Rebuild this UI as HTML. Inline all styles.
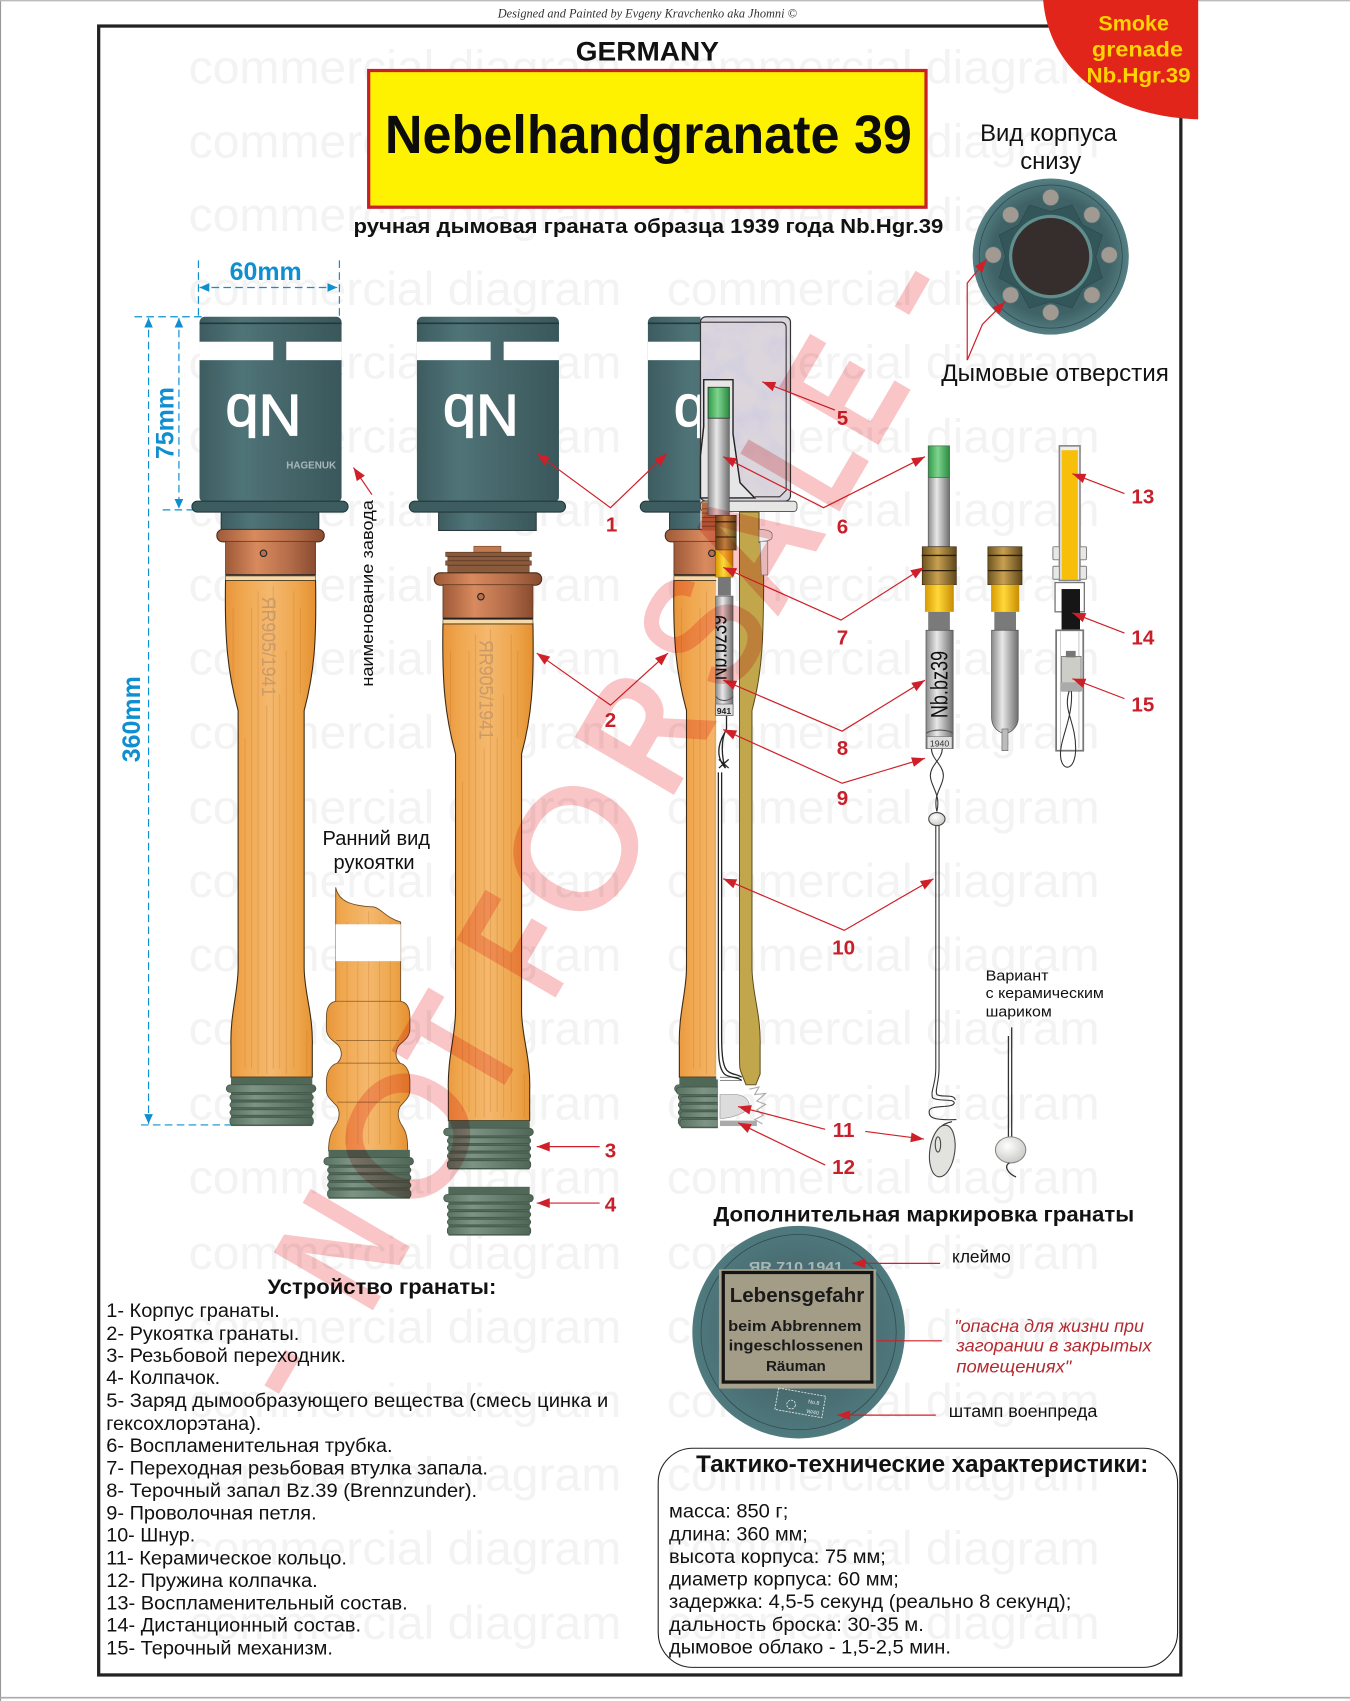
<!DOCTYPE html>
<html><head><meta charset="utf-8"><title>Nebelhandgranate 39</title>
<style>html,body{margin:0;padding:0;background:#fff}svg{display:block}text{font-family:"Liberation Sans",sans-serif}</style></head>
<body>
<svg xmlns="http://www.w3.org/2000/svg" width="1350" height="1701" viewBox="0 0 1245 1568" preserveAspectRatio="none">
<defs>
<linearGradient id="teal" x1="0" x2="1" y1="0" y2="0"><stop offset="0" stop-color="#3d5c60"/><stop offset=".3" stop-color="#4f7478"/><stop offset=".6" stop-color="#46666a"/><stop offset="1" stop-color="#3a585c"/></linearGradient>
<linearGradient id="wood" x1="0" x2="1" y1="0" y2="0"><stop offset="0" stop-color="#e8953a"/><stop offset=".2" stop-color="#f0a850"/><stop offset=".5" stop-color="#f4b86e"/><stop offset=".8" stop-color="#eea64c"/><stop offset="1" stop-color="#e59030"/></linearGradient>
<linearGradient id="copper" x1="0" x2="1" y1="0" y2="0"><stop offset="0" stop-color="#9e5a38"/><stop offset=".35" stop-color="#d98a5e"/><stop offset=".7" stop-color="#b56e4a"/><stop offset="1" stop-color="#8a4c30"/></linearGradient>
<linearGradient id="steel" x1="0" x2="1" y1="0" y2="0"><stop offset="0" stop-color="#8a8a8a"/><stop offset=".4" stop-color="#e8e8e8"/><stop offset="1" stop-color="#6e6e6e"/></linearGradient>
<linearGradient id="green" x1="0" x2="1" y1="0" y2="0"><stop offset="0" stop-color="#2f9a48"/><stop offset=".45" stop-color="#7fd48e"/><stop offset="1" stop-color="#2a8a40"/></linearGradient>
<linearGradient id="brass" x1="0" x2="1" y1="0" y2="0"><stop offset="0" stop-color="#6e5420"/><stop offset=".45" stop-color="#c8a050"/><stop offset="1" stop-color="#5e461a"/></linearGradient>
<linearGradient id="yel" x1="0" x2="1" y1="0" y2="0"><stop offset="0" stop-color="#d89a00"/><stop offset=".45" stop-color="#ffd83a"/><stop offset="1" stop-color="#c88c00"/></linearGradient>
<linearGradient id="thr" x1="0" x2="1" y1="0" y2="0"><stop offset="0" stop-color="#5a7262"/><stop offset=".3" stop-color="#7d9484"/><stop offset="1" stop-color="#4f6656"/></linearGradient>
<radialGradient id="disc" cx=".5" cy=".5" r=".5"><stop offset="0" stop-color="#3a585c"/><stop offset=".7" stop-color="#4a6f74"/><stop offset="1" stop-color="#4f7a7e"/></radialGradient>
<radialGradient id="base" cx=".5" cy=".5" r=".5"><stop offset="0" stop-color="#3a5c60"/><stop offset=".75" stop-color="#3f6266"/><stop offset="1" stop-color="#558084"/></radialGradient>
<radialGradient id="ball" cx=".4" cy=".35" r=".7"><stop offset="0" stop-color="#fff"/><stop offset="1" stop-color="#c8c8c4"/></radialGradient>
<filter id="grain" x="0" y="0" width="100%" height="100%"><feTurbulence type="fractalNoise" baseFrequency=".045" numOctaves="4" seed="7"/><feColorMatrix values="0 0 0 0 .55  0 0 0 0 .55  0 0 0 0 .78  1.6 0 0 0 -.62"/></filter>
<marker id="b" markerUnits="userSpaceOnUse" markerWidth="14" markerHeight="10" refX="13" refY="5" orient="auto-start-reverse"><path d="M1,0.5 L13,5 L1,9.5 Z" fill="#cf1f28"/></marker>
<marker id="c" markerUnits="userSpaceOnUse" markerWidth="10" markerHeight="10" refX="9" refY="5" orient="auto-start-reverse"><path d="M0,1 L9,5 L0,9 Z" fill="#0f8fd0"/></marker>
<clipPath id="hl"><rect x="0" y="0" width="232.5" height="1200"/></clipPath>
<clipPath id="hl2"><rect x="0" y="0" width="247" height="1200"/></clipPath>
<clipPath id="fz"><rect x="660" y="540" width="16" height="120"/></clipPath>

<g id="head">
 <rect x="204" y="470" width="90" height="19" fill="url(#teal)" stroke="#2a3a3c"/>
 <rect x="184" y="292" width="131" height="171" rx="5" fill="url(#teal)"/>
 <path d="M184,298 H315" stroke="#22383a" stroke-width="1.5"/>
 <rect x="184" y="315" width="68" height="17" fill="#fff"/><rect x="264" y="315" width="51" height="17" fill="#fff"/>
 <text transform="translate(243,364) rotate(180)" text-anchor="middle" font-size="54" fill="#fff" stroke="#fff" stroke-width="1.2" textLength="70" lengthAdjust="spacingAndGlyphs">Nb</text>
 <rect x="177" y="462" width="144" height="10" rx="5" fill="#3d5c60" stroke="#22383a"/>
</g>
<g id="thread">
 <rect x="213" y="993" width="75" height="45" fill="#4f6858"/>
 <rect x="208.6" y="1000" width="82.8" height="7" rx="3.5" fill="url(#thr)" stroke="#3f5244" stroke-width=".6"/>
 <rect x="212" y="1009" width="77" height="5" rx="2.5" fill="url(#thr)" stroke="#3f5244" stroke-width=".6"/>
 <rect x="212" y="1016" width="77" height="5" rx="2.5" fill="url(#thr)" stroke="#3f5244" stroke-width=".6"/>
 <rect x="212" y="1023" width="77" height="5" rx="2.5" fill="url(#thr)" stroke="#3f5244" stroke-width=".6"/>
 <rect x="212" y="1030" width="77" height="7" rx="2.5" fill="url(#thr)" stroke="#3f5244" stroke-width=".6"/>
</g>
<g id="handle">
 <rect x="200" y="488" width="99" height="11.5" rx="5.5" fill="url(#copper)" stroke="#4a2a18"/>
 <rect x="208" y="499" width="83" height="31" fill="url(#copper)" stroke="#5a3420" stroke-width=".7"/>
 <circle cx="243" cy="510" r="3" fill="#b57050" stroke="#222"/>
 <path d="M208,530 H291" stroke="#222" stroke-width="1.4"/>
 <path d="M208,535 H291 C292,590 290,620 280.5,655 V892 C280.5,915 289,935 288,965 V993 H213 V965 C212,935 219.6,915 219.6,892 V655 C210,620 207,590 208,535 Z" fill="url(#wood)" stroke="#3a2a14" stroke-width="1"/>
 <path d="M208,531 H291 V535 H208 Z" fill="#f5d9a8" stroke="#3a2a14" stroke-width=".5"/>
 <g stroke="#c06a18" stroke-width=".8" opacity=".3" fill="none">
  <path d="M226,680 V985"/><path d="M232,560 V985"/><path d="M238,545 V990"/><path d="M246,650 V990"/><path d="M252,540 V985"/><path d="M258,640 V985"/><path d="M264,600 V990"/><path d="M271,545 V985"/><path d="M277,560 V640"/><path d="M215,560 V630"/><path d="M283,950 V990"/>
 </g>
 <use href="#thread"/>
</g>
</defs>

<rect width="1245" height="1568" fill="#fff"/>
<path d="M0.5,0 V1568" stroke="#999" stroke-width="1"/><path d="M0,0.5 H1245" stroke="#bbb" stroke-width="1.5"/><path d="M0,1565 H1245" stroke="#aaa" stroke-width="1.5"/>

<!-- watermark -->
<g font-size="44" fill="#f3f3f3">
<text x="174" y="77" textLength="399" lengthAdjust="spacingAndGlyphs">commercial diagram</text><text x="615" y="77" textLength="399" lengthAdjust="spacingAndGlyphs">commercial diagram</text>
<text x="174" y="145" textLength="399" lengthAdjust="spacingAndGlyphs">commercial diagram</text><text x="615" y="145" textLength="399" lengthAdjust="spacingAndGlyphs">commercial diagram</text>
<text x="174" y="213" textLength="399" lengthAdjust="spacingAndGlyphs">commercial diagram</text><text x="615" y="213" textLength="399" lengthAdjust="spacingAndGlyphs">commercial diagram</text>
<text x="174" y="281" textLength="399" lengthAdjust="spacingAndGlyphs">commercial diagram</text><text x="615" y="281" textLength="399" lengthAdjust="spacingAndGlyphs">commercial diagram</text>
<text x="174" y="349" textLength="399" lengthAdjust="spacingAndGlyphs">commercial diagram</text><text x="615" y="349" textLength="399" lengthAdjust="spacingAndGlyphs">commercial diagram</text>
<text x="174" y="417" textLength="399" lengthAdjust="spacingAndGlyphs">commercial diagram</text><text x="615" y="417" textLength="399" lengthAdjust="spacingAndGlyphs">commercial diagram</text>
<text x="174" y="485" textLength="399" lengthAdjust="spacingAndGlyphs">commercial diagram</text><text x="615" y="485" textLength="399" lengthAdjust="spacingAndGlyphs">commercial diagram</text>
<text x="174" y="554" textLength="399" lengthAdjust="spacingAndGlyphs">commercial diagram</text><text x="615" y="554" textLength="399" lengthAdjust="spacingAndGlyphs">commercial diagram</text>
<text x="174" y="622" textLength="399" lengthAdjust="spacingAndGlyphs">commercial diagram</text><text x="615" y="622" textLength="399" lengthAdjust="spacingAndGlyphs">commercial diagram</text>
<text x="174" y="690" textLength="399" lengthAdjust="spacingAndGlyphs">commercial diagram</text><text x="615" y="690" textLength="399" lengthAdjust="spacingAndGlyphs">commercial diagram</text>
<text x="174" y="759" textLength="399" lengthAdjust="spacingAndGlyphs">commercial diagram</text><text x="615" y="759" textLength="399" lengthAdjust="spacingAndGlyphs">commercial diagram</text>
<text x="174" y="827" textLength="399" lengthAdjust="spacingAndGlyphs">commercial diagram</text><text x="615" y="827" textLength="399" lengthAdjust="spacingAndGlyphs">commercial diagram</text>
<text x="174" y="895" textLength="399" lengthAdjust="spacingAndGlyphs">commercial diagram</text><text x="615" y="895" textLength="399" lengthAdjust="spacingAndGlyphs">commercial diagram</text>
<text x="174" y="963" textLength="399" lengthAdjust="spacingAndGlyphs">commercial diagram</text><text x="615" y="963" textLength="399" lengthAdjust="spacingAndGlyphs">commercial diagram</text>
<text x="174" y="1032" textLength="399" lengthAdjust="spacingAndGlyphs">commercial diagram</text><text x="615" y="1032" textLength="399" lengthAdjust="spacingAndGlyphs">commercial diagram</text>
<text x="174" y="1100" textLength="399" lengthAdjust="spacingAndGlyphs">commercial diagram</text><text x="615" y="1100" textLength="399" lengthAdjust="spacingAndGlyphs">commercial diagram</text>
<text x="174" y="1170" textLength="399" lengthAdjust="spacingAndGlyphs">commercial diagram</text><text x="615" y="1170" textLength="399" lengthAdjust="spacingAndGlyphs">commercial diagram</text>
<text x="174" y="1238" textLength="399" lengthAdjust="spacingAndGlyphs">commercial diagram</text><text x="615" y="1238" textLength="399" lengthAdjust="spacingAndGlyphs">commercial diagram</text>
<text x="174" y="1306" textLength="399" lengthAdjust="spacingAndGlyphs">commercial diagram</text><text x="615" y="1306" textLength="399" lengthAdjust="spacingAndGlyphs">commercial diagram</text>
<text x="174" y="1374" textLength="399" lengthAdjust="spacingAndGlyphs">commercial diagram</text><text x="615" y="1374" textLength="399" lengthAdjust="spacingAndGlyphs">commercial diagram</text>
<text x="174" y="1442" textLength="399" lengthAdjust="spacingAndGlyphs">commercial diagram</text><text x="615" y="1442" textLength="399" lengthAdjust="spacingAndGlyphs">commercial diagram</text>
<text x="174" y="1511" textLength="399" lengthAdjust="spacingAndGlyphs">commercial diagram</text><text x="615" y="1511" textLength="399" lengthAdjust="spacingAndGlyphs">commercial diagram</text>
</g>

<!-- frame + corner -->
<rect x="91" y="24" width="998" height="1520" fill="none" stroke="#222" stroke-width="3"/>
<text x="597" y="16" text-anchor="middle" style="font-family:'Liberation Serif',serif" font-style="italic" font-size="12" fill="#333" textLength="276" lengthAdjust="spacingAndGlyphs">Designed and Painted by Evgeny Kravchenko aka Jhomni ©</text>
<path d="M962,0 H1105 V110 C1030,108 968,70 962,0 Z" fill="#e1251b"/>
<g font-size="20" font-weight="700" fill="#ffd400">
<text x="1013" y="28" textLength="65" lengthAdjust="spacingAndGlyphs">Smoke</text><text x="1007" y="52" textLength="84" lengthAdjust="spacingAndGlyphs">grenade</text><text x="1002" y="76" textLength="96" lengthAdjust="spacingAndGlyphs">Nb.Hgr.39</text>
</g>

<text x="597" y="56" text-anchor="middle" font-size="25" font-weight="700" fill="#111" textLength="132" lengthAdjust="spacingAndGlyphs">GERMANY</text>
<rect x="340" y="65" width="514" height="126" fill="#fff200" stroke="#c8202a" stroke-width="3"/>
<text x="355" y="141" font-size="50" font-weight="700" fill="#0c0c0c" textLength="486" lengthAdjust="spacingAndGlyphs">Nebelhandgranate 39</text>
<text x="326" y="215" font-size="19" font-weight="700" fill="#111" textLength="544" lengthAdjust="spacingAndGlyphs">ручная дымовая граната образца 1939 года Nb.Hgr.39</text>

<!-- bottom view -->
<text x="967" y="130" text-anchor="middle" font-size="22" fill="#111">Вид корпуса</text>
<text x="969" y="156" text-anchor="middle" font-size="22" fill="#111">снизу</text>
<circle cx="969" cy="236.5" r="72" fill="url(#base)"/>
<circle cx="969" cy="236.5" r="66" fill="none" stroke="#2f4a4e" stroke-width=".7"/>
<path d="M1010.5,236.5 L1016.6,256.2 L998.3,265.8 L988.7,284.1 L969,278 L949.3,284.1 L939.7,265.8 L921.4,256.2 L927.5,236.5 L921.4,216.8 L939.7,207.2 L949.3,188.9 L969,195 L988.7,188.9 L998.3,207.2 L1016.6,216.8 Z" fill="#33565a" stroke="#2a4448" stroke-width=".5"/>
<circle cx="969" cy="236.5" r="38.5" fill="#5f8e8c"/>
<circle cx="969" cy="236.5" r="35.5" fill="#362e2c"/>
<g fill="#a09a92" stroke="#5a7476" stroke-width=".6">
<circle cx="969" cy="182" r="7.5"/><circle cx="1007" cy="198" r="7.5"/><circle cx="1023" cy="235" r="7.5"/><circle cx="1007" cy="272" r="7.5"/><circle cx="969" cy="288" r="7.5"/><circle cx="932" cy="272" r="7.5"/><circle cx="916" cy="235" r="7.5"/><circle cx="932" cy="198" r="7.5"/>
</g>
<g fill="none" stroke="#cf1f28" stroke-width="1.1">
<path d="M892,332 V261 L910,239" marker-end="url(#b)"/>
<path d="M892,332 L906,299 L927,278" marker-end="url(#b)"/>
</g>
<text x="868" y="351" font-size="22" fill="#111" textLength="210" lengthAdjust="spacingAndGlyphs">Дымовые отверстия</text>

<!-- dimensions -->
<g stroke="#0f8fd0" stroke-width="1.1" fill="none" stroke-dasharray="7 4">
<path d="M183,240 V292"/><path d="M313,240 V292"/>
<path d="M184,265 H311" marker-start="url(#c)" marker-end="url(#c)"/>
<path d="M124,292 H186"/><path d="M150,470 H186"/><path d="M130,1037 H218"/>
<path d="M137,293 V1036" marker-start="url(#c)" marker-end="url(#c)"/>
<path d="M165,293 V469" marker-start="url(#c)" marker-end="url(#c)"/>
</g>
<g fill="#0f8fd0" font-weight="700">
<text x="245" y="258" text-anchor="middle" font-size="23">60mm</text>
<text transform="translate(160,390) rotate(-90)" text-anchor="middle" font-size="23">75mm</text>
<text transform="translate(129,663) rotate(-90)" text-anchor="middle" font-size="23">360mm</text>
</g>
<text transform="translate(344,547) rotate(-90)" text-anchor="middle" font-size="15.5" fill="#111" textLength="172" lengthAdjust="spacingAndGlyphs">наименование завода</text>
<path d="M343,456 L326,431" stroke="#cf1f28" stroke-width="1.1" marker-end="url(#b)"/>

<!-- grenade 1 -->
<use href="#head"/>
<text x="264" y="432" font-size="9.5" font-weight="700" fill="#a8b8b8" textLength="46" lengthAdjust="spacingAndGlyphs">HAGENUK</text>
<use href="#handle"/>
<text transform="translate(241.5,550) rotate(90)" font-size="18" fill="#c99a68" textLength="92" lengthAdjust="spacingAndGlyphs">ЯR905/1941</text>

<!-- grenade 2 -->
<use href="#head" transform="translate(200.5,0)"/>
<rect x="437" y="503.5" width="25" height="6" fill="#c07a50" stroke="#6a3a20" stroke-width=".5"/>
<g fill="#8a5a3c" stroke="#4a2a18" stroke-width=".5">
<rect x="411" y="509" width="79" height="4"/><rect x="413" y="513" width="75" height="4"/><rect x="411" y="517" width="79" height="4"/><rect x="413" y="521" width="75" height="7"/>
</g>
<use href="#handle" transform="translate(200.5,40)"/>
<text transform="translate(442,590) rotate(90)" font-size="18" fill="#c99a68" textLength="92" lengthAdjust="spacingAndGlyphs">ЯR905/1941</text>
<use href="#thread" transform="translate(200.5,101)"/>

<!-- early handle -->
<text x="347" y="779" text-anchor="middle" font-size="18.5" fill="#111">Ранний вид</text>
<text x="345" y="801" text-anchor="middle" font-size="18.5" fill="#111">рукоятки</text>
<path d="M309.6,818 C312,830 322,835 345,836 C352,838 356,846 369.5,850 V923 C376,924 378,930 378,938 V948 C378,958 370,960 367,965 C364,971 365,976 369,980 C376,982 378,990 378,997 V1005 C378,1012 372,1016 369,1020 C366,1026 367,1032 371,1038 C375,1044 376,1050 376,1061 H303 C303,1050 305,1044 309,1038 C313,1032 314,1026 311,1020 C308,1016 301,1012 301,1005 V997 C301,990 304,982 311,980 C315,976 316,971 313,965 C310,960 301,958 301,948 V938 C301,930 303,924 309.6,923 Z" fill="url(#wood)" stroke="#6a4a24" stroke-width=".8"/>
<g stroke="#c06a18" stroke-width=".8" opacity=".3"><path d="M320,850 V1055"/><path d="M330,850 V1055"/><path d="M340,840 V1055"/><path d="M350,850 V1055"/><path d="M360,850 V1055"/></g>
<path d="M309.6,923 H369.5 M310,959 H368 M311,980 H369 M311,1016 H369" stroke="#8a5a24" stroke-width=".7" fill="none"/>
<rect x="309.6" y="852" width="60" height="34" fill="#fff"/>
<use href="#thread" transform="translate(90,67)"/>

<!-- grenade 3 cutaway -->
<g transform="translate(413.5,0)"><use href="#head" clip-path="url(#hl)"/></g>
<rect x="646" y="292" width="83" height="170" rx="5" fill="#dcd6dc"/>
<rect x="646" y="292" width="83" height="170" rx="5" fill="#fff" filter="url(#grain)" opacity=".6"/>
<rect x="646" y="292" width="83" height="170" rx="5" fill="none" stroke="#333" stroke-width="1.1"/>
<path d="M646,297 H720 Q725,297 725,302 V452 L719,458 H696" fill="none" stroke="#333" stroke-width="1"/>
<path d="M649,350 H676 V400 L682.5,445 L696,459 H646 V420 L649,393 Z" fill="#e6e6e6" stroke="#222" stroke-width="1.3"/>
<rect x="646" y="462" width="89" height="9.5" rx="3" fill="#e6e6e4" stroke="#444" stroke-width=".8"/>
<g transform="translate(413.5,0)"><use href="#handle" clip-path="url(#hl2)"/></g>
<rect x="647" y="463" width="14" height="26" fill="#b5683f"/>
<path d="M647,469 H661 M647,473 H661 M647,477 H661 M647,481 H661 M647,485 H661" stroke="#7a3f22" stroke-width=".8"/>
<!-- right half of handle (olive) -->
<path d="M682,472 H700 V500 H704 C705,590 703,620 693.5,655 V892 C693.5,915 702,935 701,965 V990 L697,1000 H688 L684,990 C682,985 682,985 682,970 Z" fill="#c2a64c" stroke="#5a4a1a" stroke-width=".9"/>
<path d="M700,488 C708,488 713,490 712,494 C713,498 708,499 700,499 Z M701,499 H708 V530 H702 Z" fill="#eee" stroke="#888" stroke-width=".7"/>
<path d="M664,993 H682 M664,996 H684" stroke="#666" stroke-width=".7"/>
<!-- fuze in grenade -->
<rect x="653" y="385" width="19.6" height="90" fill="url(#steel)" stroke="#555" stroke-width=".6"/>
<rect x="653" y="357" width="19.6" height="28.5" fill="url(#green)" stroke="#333" stroke-width=".8"/>
<rect x="660" y="475" width="19" height="32" fill="url(#brass)" stroke="#3a2a10" stroke-width=".5"/>
<path d="M660,481 H679 M660,495 H679" stroke="#2a1e08" stroke-width="1"/>
<rect x="660" y="507" width="16" height="25" fill="url(#yel)" stroke="#555" stroke-width=".4"/>
<rect x="662" y="532" width="12" height="17" fill="#777"/>
<rect x="660" y="549.5" width="16" height="110" fill="url(#steel)" stroke="#555" stroke-width=".6"/>
<g clip-path="url(#fz)"><text transform="translate(670,627) rotate(-90)" font-size="22" fill="#111" textLength="60" lengthAdjust="spacingAndGlyphs">Nb.bz39</text></g>
<path d="M660,642 C664,647 672,647 676,642" fill="none" stroke="#555"/>
<rect x="660" y="649" width="16" height="10.5" fill="#ddd" stroke="#555" stroke-width=".5"/>
<text x="661" y="658" font-size="8" font-weight="700" fill="#222">941</text>
<!-- wire -->
<g fill="none" stroke="#222" stroke-width="1.2">
<path d="M670,660 V672 C664,682 666,700 669,708 C662,700 660,690 668,676"/><path d="M663,700 L672,708 M663,708 L672,700"/>
<path d="M662.5,712 V955 C662.5,975 663,985 668,990 C672,994 680,992 684,996"/>
<path d="M665.5,712 V955 C665.5,975 667,985 672,988 C676,991 680,990 684,993"/>
</g>
<!-- cap in cutaway -->
<g transform="translate(415,2)"><use href="#thread" clip-path="url(#hl2)"/></g>
<path d="M664,1009 H680 C690,1011 694,1018 688,1024 C682,1028 672,1031 664,1031 Z" fill="#dcdcdc" stroke="#999" stroke-width=".6"/>
<path d="M691,1004 L700,1002 L696,1009 L706,1008 L698,1015 L706,1018 L698,1023 L704,1028 L696,1032 L703,1036" fill="none" stroke="#aaa" stroke-width="1"/>
<rect x="664" y="1033" width="34" height="5" fill="#aaa"/>

<!-- exploded fuze A -->
<rect x="856" y="440" width="19.7" height="64" fill="url(#steel)" stroke="#555" stroke-width=".6"/>
<rect x="856" y="411" width="19.7" height="29" fill="url(#green)" stroke="#555" stroke-width=".6"/>
<rect x="850.5" y="504" width="31.5" height="35" fill="url(#brass)" stroke="#3a2a10" stroke-width=".6"/>
<path d="M850,512 H882 M850,526 H882" stroke="#2a1e08" stroke-width="1.2"/>
<rect x="853" y="539" width="26.6" height="25" fill="url(#yel)"/>
<rect x="856" y="564" width="20" height="17" fill="#7a7a7a"/>
<rect x="854" y="581" width="25" height="109" fill="url(#steel)" stroke="#555" stroke-width=".7"/>
<text transform="translate(874,662) rotate(-90)" font-size="22" fill="#111" textLength="62" lengthAdjust="spacingAndGlyphs">Nb.bz39</text>
<path d="M854,676 C860,672 873,672 879,676" fill="none" stroke="#555"/>
<rect x="855" y="679" width="23" height="11" fill="#ddd" stroke="#666" stroke-width=".5"/>
<text x="866.5" y="688" text-anchor="middle" font-size="8" fill="#333">1940</text>
<g fill="none" stroke="#333" stroke-width="1">
<path d="M859,690 C859,700 870,705 870,715 C870,725 860,732 864,748"/>
<path d="M869,690 C869,700 858,705 858,715 C858,725 868,732 864,748"/>
<path d="M863,760 V985 C863,1000 858,1005 860,1012 C866,1016 880,1012 880,1017 C878,1022 858,1018 857,1024 C856,1030 860,1033 882,1032"/>
<path d="M866,760 V985 C866,998 862,1005 864,1009 C870,1012 880,1008 881,1014"/>
<path d="M878,1034 C868,1036 864,1040 866,1050"/>
</g>
<ellipse cx="864" cy="755" rx="7.5" ry="6" fill="url(#ball)" stroke="#444"/>
<ellipse cx="869" cy="1061" rx="11.5" ry="24" transform="rotate(8 869 1061)" fill="#e2e2de" stroke="#444"/>
<ellipse cx="865" cy="1055" rx="2.5" ry="7" fill="none" stroke="#444"/>

<!-- exploded fuze B -->
<rect x="911" y="504" width="31.5" height="35" fill="url(#brass)" stroke="#3a2a10" stroke-width=".6"/>
<path d="M911,512 H943 M911,526 H943" stroke="#2a1e08" stroke-width="1.2"/>
<rect x="914" y="539" width="26" height="25" fill="url(#yel)"/>
<rect x="917" y="564" width="20" height="17" fill="#7a7a7a"/>
<path d="M914.5,581 H939 V662 C939,670 932,676 927,676 C921,676 914.5,670 914.5,662 Z" fill="url(#steel)" stroke="#555" stroke-width=".7"/>
<rect x="924" y="672" width="5.6" height="20" fill="#bbb" stroke="#555" stroke-width=".5"/>

<!-- exploded fuze C -->
<rect x="977" y="411" width="19" height="124" fill="#eee" stroke="#888" stroke-width="1.5"/>
<rect x="979" y="415" width="15" height="119" fill="#f7bf0a"/>
<g fill="#e8e8e4" stroke="#888" stroke-width="1"><rect x="971" y="504" width="6" height="12" rx="1"/><rect x="996" y="504" width="6" height="12" rx="1"/><rect x="971" y="522" width="6" height="12" rx="1"/><rect x="996" y="522" width="6" height="12" rx="1"/></g>
<rect x="973" y="537" width="27" height="27" fill="#fff" stroke="#777" stroke-width="1.2"/>
<rect x="979" y="543" width="17" height="38" fill="#161616"/>
<rect x="974" y="581" width="25" height="111" fill="#fff" stroke="#777" stroke-width="1.6"/>
<path d="M978,582 V690 M995,582 V690" stroke="#ccc"/>
<rect x="979" y="605" width="18" height="32" fill="#cdcdc8" stroke="#555" stroke-width=".6"/>
<rect x="983" y="600" width="9" height="6" fill="#777"/>
<rect x="978" y="629" width="20" height="8" fill="#aaa"/>
<g fill="none" stroke="#333" stroke-width="1"><path d="M986,637 C980,655 992,665 992,690 C992,712 978,712 978,695 C978,680 990,660 988,637"/></g>

<!-- variant -->
<g font-size="14" fill="#111"><text x="909" y="904" textLength="58" lengthAdjust="spacingAndGlyphs">Вариант</text><text x="909" y="920" textLength="109" lengthAdjust="spacingAndGlyphs">с керамическим</text><text x="909" y="937" textLength="61" lengthAdjust="spacingAndGlyphs">шариком</text></g>
<path d="M930,955 V1050 M933,947 V1050" stroke="#333" stroke-width="1.2"/>
<ellipse cx="932" cy="1060" rx="14" ry="12" fill="url(#ball)" stroke="#888"/>
<path d="M931,1072 C925,1075 930,1082 937,1085" fill="none" stroke="#333" stroke-width="1.2"/>

<!-- callouts -->
<g fill="none" stroke="#cf1f28" stroke-width="1.1">
<path d="M495,418 L563,468 L615,418" marker-start="url(#b)" marker-end="url(#b)"/>
<path d="M495,602 L563,650 L616,602" marker-start="url(#b)" marker-end="url(#b)"/>
<path d="M553,1057 H495" marker-end="url(#b)"/><path d="M553,1109 H495" marker-end="url(#b)"/>
<path d="M770,378 L703,352" marker-end="url(#b)"/>
<path d="M667,421 L759.5,468 L853,421" marker-start="url(#b)" marker-end="url(#b)"/>
<path d="M667,523 L775.6,571.6 L852,523" marker-start="url(#b)" marker-end="url(#b)"/>
<path d="M667,627 L776.6,674 L853,627" marker-start="url(#b)" marker-end="url(#b)"/>
<path d="M667,672.5 L776.6,722 L853,699" marker-start="url(#b)" marker-end="url(#b)"/>
<path d="M667,810 L778.6,857.6 L861,810" marker-start="url(#b)" marker-end="url(#b)"/>
<path d="M761,1041 L680.6,1020" marker-end="url(#b)"/>
<path d="M798,1043 L852,1050" marker-end="url(#b)"/>
<path d="M761,1074 L680.6,1035" marker-end="url(#b)"/>
<path d="M1037,455 L989,436.7" marker-end="url(#b)"/>
<path d="M1037,583.6 L989,565" marker-end="url(#b)"/>
<path d="M1037,644 L989,625.6" marker-end="url(#b)"/>
</g>
<g font-size="19" font-weight="700" fill="#c8202a" text-anchor="middle">
<text x="564" y="490">1</text><text x="563" y="670">2</text><text x="563" y="1067">3</text><text x="563" y="1117">4</text>
<text x="777" y="392">5</text><text x="777" y="492">6</text><text x="777" y="594">7</text><text x="777" y="696">8</text><text x="777" y="742">9</text><text x="778" y="880">10</text><text x="778" y="1048">11</text><text x="778" y="1082">12</text>
<text x="1054" y="464">13</text><text x="1054" y="594">14</text><text x="1054" y="656">15</text>
</g>

<!-- markings -->
<text x="658" y="1126" font-size="20" font-weight="700" fill="#111" textLength="388" lengthAdjust="spacingAndGlyphs">Дополнительная маркировка гранаты</text>
<circle cx="736.5" cy="1228" r="98" fill="url(#disc)"/>
<circle cx="736.5" cy="1228" r="90" fill="none" stroke="#2f4a4e" stroke-width=".7"/>
<text x="734" y="1172" text-anchor="middle" font-size="13" font-weight="700" fill="#a9b6b6" textLength="87" lengthAdjust="spacingAndGlyphs">ЯR 710  1941</text>
<rect x="663" y="1170" width="145" height="110" fill="#a8a18c"/>
<rect x="667" y="1173" width="137" height="101" fill="#a39c86" stroke="#141414" stroke-width="3"/>
<text x="735" y="1200" text-anchor="middle" font-size="19" font-weight="700" fill="#1a1a1a" textLength="124" lengthAdjust="spacingAndGlyphs">Lebensgefahr</text>
<text x="733" y="1227" text-anchor="middle" font-size="14" font-weight="700" fill="#1a1a1a" textLength="123" lengthAdjust="spacingAndGlyphs">beim Abbrennem</text>
<text x="734" y="1245" text-anchor="middle" font-size="14" font-weight="700" fill="#1a1a1a" textLength="124" lengthAdjust="spacingAndGlyphs">ingeschlossenen</text>
<text x="734" y="1264" text-anchor="middle" font-size="14" font-weight="700" fill="#1a1a1a">Räuman</text>
<g transform="rotate(10 737 1293)" fill="none" stroke="#dfe6e6" stroke-width=".8" stroke-dasharray="2 1">
<rect x="716" y="1283" width="44" height="20"/><circle cx="730" cy="1296" r="4"/></g>
<text x="745" y="1292" font-size="5" fill="#dfe6e6" transform="rotate(10 737 1293)">No.8</text>
<text x="745" y="1301" font-size="5" fill="#dfe6e6" transform="rotate(10 737 1293)">W/40</text>
<g fill="none" stroke="#cf1f28" stroke-width="1.1">
<path d="M867,1164.6 H786" marker-end="url(#b)"/>
<path d="M868.6,1236 H808"/>
<path d="M863,1304.5 H772" marker-end="url(#b)"/>
</g>
<text x="878" y="1164" font-size="16" fill="#111">клеймо</text>
<g font-size="16.5" font-style="italic" fill="#b52a30">
<text x="880" y="1228" textLength="175" lengthAdjust="spacingAndGlyphs">"опасна для жизни при</text>
<text x="882" y="1246" textLength="180" lengthAdjust="spacingAndGlyphs">загорании в закрытых</text>
<text x="882" y="1265" textLength="106" lengthAdjust="spacingAndGlyphs">помещениях"</text>
</g>
<text x="875" y="1306" font-size="16" fill="#111" textLength="137" lengthAdjust="spacingAndGlyphs">штамп военпреда</text>

<!-- TTX -->
<rect x="607" y="1335" width="479" height="202" rx="32" fill="none" stroke="#222" stroke-width="1"/>
<text x="642" y="1357" font-size="22" font-weight="700" fill="#111" textLength="417" lengthAdjust="spacingAndGlyphs">Тактико-технические характеристики:</text>
<g font-size="17.5" fill="#111">
<text x="617" y="1399" textLength="110" lengthAdjust="spacingAndGlyphs">масса: 850 г;</text>
<text x="617" y="1420" textLength="128" lengthAdjust="spacingAndGlyphs">длина: 360 мм;</text>
<text x="617" y="1441" textLength="200" lengthAdjust="spacingAndGlyphs">высота корпуса: 75 мм;</text>
<text x="617" y="1461.5" textLength="212" lengthAdjust="spacingAndGlyphs">диаметр корпуса: 60 мм;</text>
<text x="617" y="1482.5" textLength="371" lengthAdjust="spacingAndGlyphs">задержка: 4,5-5 секунд (реально 8 секунд);</text>
<text x="617" y="1503.5" textLength="235" lengthAdjust="spacingAndGlyphs">дальность броска: 30-35 м.</text>
<text x="617" y="1524" textLength="260" lengthAdjust="spacingAndGlyphs">дымовое облако - 1,5-2,5 мин.</text>
</g>

<!-- list -->
<text x="246.7" y="1193" font-size="19.5" font-weight="700" fill="#111" textLength="211" lengthAdjust="spacingAndGlyphs">Устройство гранаты:</text>
<g font-size="17.7" fill="#111">
<text x="98" y="1214" textLength="160" lengthAdjust="spacingAndGlyphs">1- Корпус гранаты.</text>
<text x="98" y="1235" textLength="178" lengthAdjust="spacingAndGlyphs">2- Рукоятка гранаты.</text>
<text x="98" y="1255.5" textLength="221" lengthAdjust="spacingAndGlyphs">3- Резьбовой переходник.</text>
<text x="98" y="1276" textLength="105" lengthAdjust="spacingAndGlyphs">4- Колпачок.</text>
<text x="98" y="1297" textLength="463" lengthAdjust="spacingAndGlyphs">5- Заряд дымообразующего вещества (смесь цинка и</text>
<text x="98" y="1318" textLength="143" lengthAdjust="spacingAndGlyphs">гексохлорэтана).</text>
<text x="98" y="1338.5" textLength="264" lengthAdjust="spacingAndGlyphs">6- Воспламенительная трубка.</text>
<text x="98" y="1359" textLength="352" lengthAdjust="spacingAndGlyphs">7- Переходная резьбовая втулка запала.</text>
<text x="98" y="1380" textLength="342" lengthAdjust="spacingAndGlyphs">8- Терочный запал Bz.39 (Brennzunder).</text>
<text x="98" y="1400.5" textLength="194" lengthAdjust="spacingAndGlyphs">9- Проволочная петля.</text>
<text x="98" y="1421" textLength="82" lengthAdjust="spacingAndGlyphs">10- Шнур.</text>
<text x="98" y="1442" textLength="222" lengthAdjust="spacingAndGlyphs">11- Керамическое кольцо.</text>
<text x="98" y="1463" textLength="195" lengthAdjust="spacingAndGlyphs">12- Пружина колпачка.</text>
<text x="98" y="1483.5" textLength="278" lengthAdjust="spacingAndGlyphs">13- Воспламенительный состав.</text>
<text x="98" y="1504" textLength="235" lengthAdjust="spacingAndGlyphs">14- Дистанционный состав.</text>
<text x="98" y="1525" textLength="209" lengthAdjust="spacingAndGlyphs">15- Терочный механизм.</text>
</g>

<!-- NOT FOR SALE overlay: letters placed individually to match the geometric lettering -->
<g transform="translate(554,769) rotate(-59.7)" font-size="154" font-weight="700" fill="#e8282a" stroke="#e8282a" text-anchor="middle" opacity=".27" style="mix-blend-mode:multiply">
<text x="-576" y="30" font-size="130" stroke="none" textLength="50" lengthAdjust="spacingAndGlyphs">-</text>
<text x="-451" y="40" stroke="none" textLength="83" lengthAdjust="spacingAndGlyphs">N</text>
<text x="-330" y="40" font-weight="400" stroke-width="3" textLength="124" lengthAdjust="spacingAndGlyphs">O</text>
<text x="-236" y="40" stroke="none" textLength="70" lengthAdjust="spacingAndGlyphs">T</text>
<text x="-126" y="40" stroke="none" textLength="64" lengthAdjust="spacingAndGlyphs">F</text>
<text x="-23" y="40" font-weight="400" stroke-width="3" textLength="124" lengthAdjust="spacingAndGlyphs">O</text>
<text x="102" y="40" stroke="none" textLength="90" lengthAdjust="spacingAndGlyphs">R</text>
<text x="209" y="40" font-weight="400" stroke-width="3" textLength="83" lengthAdjust="spacingAndGlyphs">S</text>
<text x="300" y="40" stroke="none" textLength="95" lengthAdjust="spacingAndGlyphs">A</text>
<text x="393" y="40" stroke="none" textLength="64" lengthAdjust="spacingAndGlyphs">L</text>
<text x="467" y="40" stroke="none" textLength="70" lengthAdjust="spacingAndGlyphs">E</text>
<text x="576" y="30" font-size="130" stroke="none" textLength="50" lengthAdjust="spacingAndGlyphs">-</text>
</g>
</svg>
</body></html>
